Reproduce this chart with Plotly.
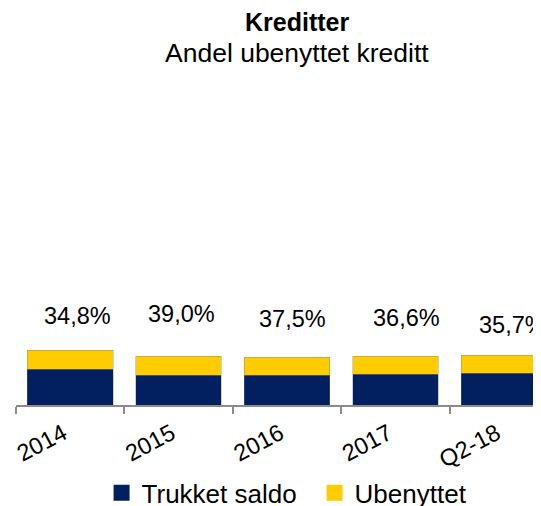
import plotly.graph_objects as go

categories = ["2014", "2015", "2016", "2017", "Q2-18"]
trukket_saldo = [35.7, 29.7, 29.7, 31.0, 32.0]
ubenyttet = [19.2, 19.1, 17.9, 17.9, 17.8]
andel_labels = ["34,8%", "39,0%", "37,5%", "36,6%", "35,7%"]
series_names = ["Trukket saldo", "Ubenyttet"]

# label placement (style only)
label_dx = [0.07, 0.03, 0.055, 0.10, 0.08]
label_y = [89, 91, 86, 87, 80]

NAVY = "#021F60"
YELLOW = "#FFCC00"
FONT = "Liberation Sans, Arial, sans-serif"
OUTLINE = dict(color="rgba(120,120,140,0.6)", width=0.6)

fig = go.Figure()
fig.add_trace(go.Bar(
    x=categories, y=trukket_saldo, name=series_names[0], showlegend=False,
    marker=dict(color=NAVY, line=OUTLINE),
))
fig.add_trace(go.Bar(
    x=categories, y=ubenyttet, name=series_names[1], showlegend=False,
    marker=dict(color=YELLOW, line=OUTLINE),
))
# legend entries (larger square symbols, as in the reference)
for nm, col in zip(series_names, [NAVY, YELLOW]):
    fig.add_trace(go.Scatter(
        x=[None], y=[None], mode="markers", name=nm,
        marker=dict(symbol="square", size=16, color=col),
    ))

annotations = []
for i, txt in enumerate(andel_labels):
    annotations.append(dict(
        x=i + label_dx[i], y=label_y[i], xref="x", yref="y",
        text=txt, showarrow=False, xanchor="center", yanchor="middle",
        font=dict(family=FONT, size=23.5, color="#000000"),
    ))

annotations.append(dict(
    x=0.535, y=1.0 + (80 - 22) / 325, xref="paper", yref="paper",
    text="<b>Kreditter</b>", showarrow=False, xanchor="center", yanchor="middle",
    font=dict(family=FONT, size=25, color="#000000"),
))
annotations.append(dict(
    x=0.535, y=1.0 + (80 - 53) / 325, xref="paper", yref="paper",
    text="Andel ubenyttet kreditt", showarrow=False, xanchor="center", yanchor="middle",
    font=dict(family=FONT, size=26.5, color="#000000"),
))

fig.update_layout(
    barmode="stack",
    bargap=0.21,
    width=533, height=498,
    margin=dict(l=8, r=0, t=72, b=101, autoexpand=False),
    paper_bgcolor="white", plot_bgcolor="white",
    font=dict(family=FONT, color="#000000"),
    showlegend=True,
    legend=dict(
        orientation="h", x=0.163, xanchor="left", y=-0.27, yanchor="middle",
        font=dict(family=FONT, size=26, color="#000000"),
        traceorder="normal", itemclick=False, entrywidth=168,
    ),
    annotations=annotations,
    xaxis=dict(
        type="category", automargin=False,
        range=[-0.5, 4.343],
        showline=True, linecolor="#8C8C8C", linewidth=1.5,
        ticks="outside", tickson="boundaries", ticklen=7, tickcolor="#8C8C8C", tickwidth=1.5,
        tickangle=-28, tickfont=dict(family=FONT, size=23.5, color="#000000"),
        ticklabelshift=-7, ticklabelstandoff=4,
        showgrid=False, zeroline=False,
    ),
    yaxis=dict(
        range=[0, 325], visible=False, showgrid=False, zeroline=False,
    ),
)

fig.write_html("out.html")
